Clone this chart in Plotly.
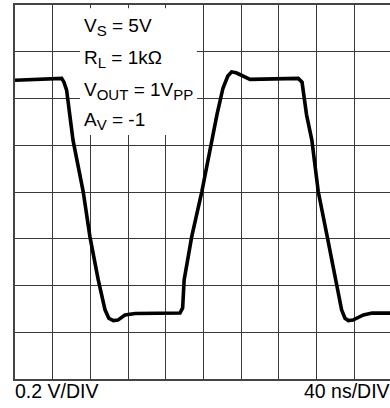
import plotly.graph_objects as go

# Waveform, in screen divisions (x: 40 ns/div, y: 0.2 V/div)
time_div = [0, 1.24, 1.30, 1.37, 1.54, 1.81, 1.99, 2.21, 2.39, 2.49, 2.61, 2.73, 2.92, 3.19,
            4.38, 4.45, 4.49, 4.69, 4.96, 5.22, 5.36, 5.52, 5.65, 5.75, 5.87, 6.24,
            7.52, 7.62, 7.74, 7.88, 8.05, 8.29, 8.52, 8.67, 8.76, 8.85, 8.97, 9.25, 9.48, 9.96]
volt_div = [6.39, 6.43, 6.35, 6.18, 5.11, 4.01, 3.04, 2.12, 1.48, 1.30, 1.25, 1.26, 1.37, 1.40,
            1.41, 1.52, 2.12, 3.04, 4.01, 5.11, 5.65, 6.22, 6.48, 6.57, 6.55, 6.41,
            6.43, 6.35, 5.65, 5.11, 4.01, 3.04, 2.12, 1.48, 1.30, 1.25, 1.26, 1.37, 1.41, 1.41]

def sub(s):
    return "<sub><span style='font-size:15px'>" + s + "</span></sub>"

cond_labels = ["V" + sub("S") + " = 5V", "R" + sub("L") + " = 1kΩ",
               "V" + sub("OUT") + " = 1V" + sub("PP"), "A" + sub("V") + " = -1"]
cond_y = [7.52, 6.84, 6.16, 5.52]
scale_labels = ["0.2 V/DIV", "40 ns/DIV"]

FONT = "Liberation Sans, Arial, sans-serif"
GRID = "#3a3a3a"

fig = go.Figure()
fig.add_trace(go.Scatter(x=time_div, y=volt_div, mode="lines",
                         line=dict(color="black", width=3.6), hoverinfo="skip"))

fig.add_shape(type="rect", xref="x", yref="y", x0=1.725, x1=4.83, y0=5.22, y1=7.93,
              fillcolor="white", line=dict(width=0), layer="between")

for t, yy in zip(cond_labels, cond_y):
    fig.add_annotation(x=1.77, y=yy, xref="x", yref="y", text=t, showarrow=False,
                       xanchor="left", yanchor="middle",
                       font=dict(family=FONT, size=19, color="black"))

fig.add_annotation(x=0, y=-0.032, xref="paper", yref="paper", text=scale_labels[0],
                   showarrow=False, xanchor="left", yanchor="middle", xshift=-2,
                   font=dict(family=FONT, size=19.5, color="black"))
fig.add_annotation(x=1, y=-0.032, xref="paper", yref="paper", text=scale_labels[1],
                   showarrow=False, xanchor="right", yanchor="middle", xshift=2,
                   font=dict(family=FONT, size=19.5, color="black"))

fig.update_layout(
    width=390, height=408,
    margin=dict(l=15, r=0, t=5, b=29),
    paper_bgcolor="white", plot_bgcolor="white",
    showlegend=False,
    xaxis=dict(range=[0, 9.955], tick0=0, dtick=1, showgrid=True, gridcolor=GRID, gridwidth=1,
               showline=True, linecolor="#444", linewidth=2, mirror=True,
               showticklabels=False, ticks="", zeroline=False, fixedrange=True),
    yaxis=dict(range=[0, 8], tick0=0, dtick=1, showgrid=True, gridcolor=GRID, gridwidth=1,
               showline=True, linecolor="#444", linewidth=2, mirror=False,
               showticklabels=False, ticks="", zeroline=False, fixedrange=True),
)

fig.write_html("out.html", config={"displayModeBar": False},
               post_script="document.body.style.margin='0';document.body.style.overflow='hidden';")
